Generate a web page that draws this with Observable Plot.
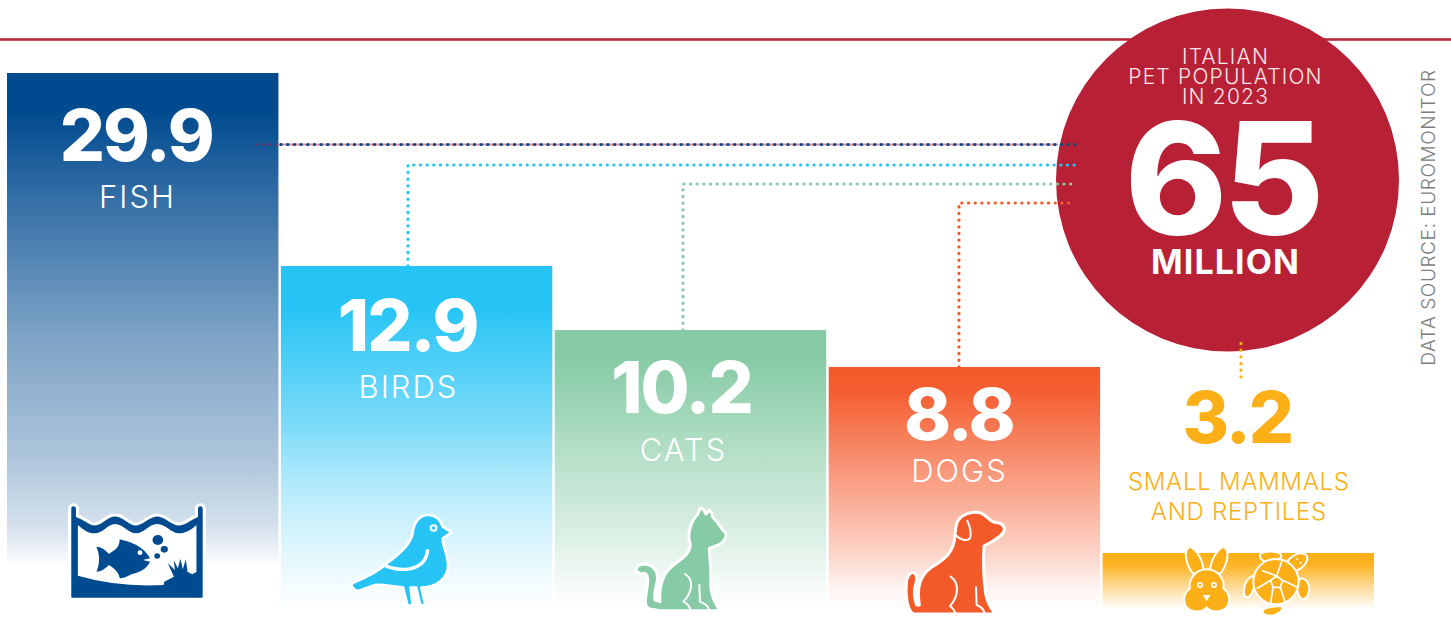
<!DOCTYPE html>
<html><head><meta charset="utf-8">
<style>html,body{margin:0;padding:0;background:#fff}svg{display:block}
g[font-size="71"]{letter-spacing:-2px}
g[font-size="31"]{letter-spacing:2px}
g[font-size="24"]{letter-spacing:.7px}
g[font-size="21"]{letter-spacing:1.2px}
g[font-size="19"]{letter-spacing:.6px}
g[font-size="34"]{letter-spacing:1.1px}
g[font-size="155"]{letter-spacing:-4px}
</style>
<script src="https://cdn.jsdelivr.net/npm/d3@7"></script>
<script src="https://cdn.jsdelivr.net/npm/@observablehq/plot@0.6"></script>
</head><body><div id="chart"></div>
<script>
// ---- data ----
const categories = ["FISH", "BIRDS", "CATS", "DOGS", "SMALL MAMMALS\nAND REPTILES"];
const values = [29.9, 12.9, 10.2, 8.8, 3.2];
const totalValue = 65;
const totalUnit = "MILLION";
const totalTitle = "ITALIAN\nPET POPULATION\nIN 2023";
const sourceNote = "DATA SOURCE: EUROMONITOR";

// ---- styles & layout ----
const colors = ["#004a8f", "#26c4f5", "#86cba5", "#f4592a", "#fcaf17"];
const red = "#b72035";
const FONT = "Inter, 'Noto Sans', sans-serif";
const rows = categories.map((name, i) => ({name, value: values[i], color: colors[i], id: "grad" + i}));
// offsets from the bar's centre and top, in pixels
const labelLayout = [
  {dx: -5.7, vdx: -7, vy: 65, ny: 122, ns: 31},
  {dx: -8.6, vdx: -9.5, vy: 62, ny: 119, ns: 31},
  {dx: -7.5, vdx: -9.5, vy: 60, ny: 118, ns: 31},
  {dx: -5.4, vdx: -6, vy: 50, ny: 102, ns: 31},
  {dx: 0, vdx: -1.5, vy: -133, ny: -58, ns: 24}
];
const gradientStops = [
  [[0, 1], [.07, 1], [.25, .78], [.5, .5], [.72, .32], [.85, .16], [.91, .03], [.915, 0], [1, 0]],
  [[0, 1], [.12, 1], [.45, .62], [.63, .36], [.85, .12], [1, 0]],
  [[0, 1], [.1, 1], [.5, .55], [.76, .27], [.92, .07], [1, 0]],
  [[0, 1], [.1, .97], [.5, .55], [.76, .27], [.92, .06], [1, 0]],
  [[0, 1], [.2, .95], [.6, .45], [1, 0]]
];
const connectors = [
  {i: 1, dx: -8.6, level: 165, end: 1075},
  {i: 2, dx: -7.5, level: 184, end: 1075},
  {i: 3, dx: -5.4, level: 203, end: 1075}
];

function defsMark() {
  const defs = d3.create("svg:defs");
  rows.forEach((r, k) => {
    const g = defs.append("linearGradient").attr("id", r.id).attr("x1", 0).attr("x2", 0).attr("y1", 0).attr("y2", 1);
    gradientStops[k].forEach(([o, a]) => g.append("stop").attr("offset", o).attr("stop-color", r.color).attr("stop-opacity", a));
  });
  return defs.node();
}

function center(scales, i) {
  return scales.x(categories[i]) + scales.x.bandwidth() / 2;
}

function topRule(_, scales, v, dims) {
  return d3.create("svg:line").attr("x1", 0).attr("x2", dims.width).attr("y1", 39.5).attr("y2", 39.5)
    .attr("stroke", red).attr("stroke-width", 2.5).node();
}

function connectorMark(_, scales) {
  const g = d3.create("svg:g").attr("fill", "none");
  const dotted = (sel, color) => sel.attr("stroke", color).attr("stroke-width", 3.2)
    .attr("stroke-linecap", "round").attr("stroke-dasharray", "0.2 6.47");
  // fish: pale red line under navy dots
  const fy = 144.5;
  const fishEdge = scales.x(categories[0]) + scales.x.bandwidth();
  g.append("line").attr("x1", fishEdge).attr("x2", 1058).attr("y1", fy).attr("y2", fy)
    .attr("stroke", "#dd8a98").attr("stroke-width", 2);
  g.append("line").attr("x1", 255).attr("x2", fishEdge).attr("y1", fy).attr("y2", fy)
    .attr("stroke", "#8a2a55").attr("stroke-width", 2).attr("stroke-dasharray", "3 3.67");
  dotted(g.append("line").attr("x1", 281).attr("x2", 1078).attr("y1", fy).attr("y2", fy), colors[0]);
  connectors.forEach(c => {
    const x0 = center(scales, c.i) + c.dx;
    dotted(g.append("path").attr("d", `M${x0},${scales.y(values[c.i])}V${c.level}H${c.end}`), colors[c.i]);
  });
  // small mammals: short vertical tick up into the circle
  const sx = center(scales, 4) + 2.7;
  dotted(g.append("path").attr("d", `M${sx},${scales.y(values[4]) - 176}V${scales.y(values[4]) - 211}`), colors[4]);
  return g.node();
}

// ---- icons, drawn at zoom-crop scale and placed from the band centre / baseline ----
function iconMark(i, ox, oy, kx, ky, draw) {
  return (_, scales) => {
    const g = d3.create("svg:g")
      .attr("transform", `translate(${center(scales, i) + ox},${scales.y(0) + oy}) scale(${kx},${ky})`)
      .attr("stroke-linejoin", "round").attr("stroke-linecap", "round");
    draw(g);
    return g.node();
  };
}
const P = (g, d, fill, stroke, w, rule) => {
  const p = g.append("path").attr("d", d).attr("fill", fill);
  if (stroke) p.attr("stroke", stroke).attr("stroke-width", w);
  if (rule) p.attr("fill-rule", rule);
  return p;
};
const C = (g, x, y, r, fill) => g.append("circle").attr("cx", x).attr("cy", y).attr("r", r).attr("fill", fill);

const fishIcon = g => {
  const c = colors[0];
  const outer = "M195 85a11 11 0 0 1 22 0L217 108C240 115 250 132 265 132C285 132 295 105 322 105C350 105 360 132 380 132C400 132 415 105 440 105C465 105 480 132 500 132C520 132 530 115 550 108L550 85a11 11 0 0 1 22 0L572 350Q572 358 563 358L205 358Q195 358 195 350Z";
  P(g, outer, c, "#fff", 9);
  P(g, "M218 135C235 150 245 160 265 160C290 160 300 132 322 132C345 132 360 160 380 160C405 160 415 132 440 132C465 132 480 160 500 160C520 160 535 150 550 135L550 276L538 283L525 275L520 238L512 268L505 236L498 265L486 240L490 270L470 250L487 290L460 305L458 315Q330 322 218 287Z", "#fff");
  P(g, "M270 200C285 200 300 215 305 222C320 210 335 205 335 178C360 185 400 195 420 235L400 240L420 245C410 270 385 278 370 282C355 290 345 295 335 295C335 280 320 265 305 255C295 265 285 275 270 275C280 250 280 225 270 200Z", c);
  C(g, 392, 218, 7, "#fff");
  C(g, 442, 180, 15, c); C(g, 460, 208, 10, c); C(g, 440, 228, 8, c);
};
const birdIcon = g => {
  const c = colors[1];
  P(g, "M985 310C1020 295 1060 275 1085 248C1115 225 1150 195 1155 160C1158 125 1175 105 1200 105C1225 105 1235 125 1240 140L1265 157L1240 175C1238 195 1255 225 1255 255C1255 295 1225 320 1180 323L1190 370a8 8 0 0 1 -14 3L1165 323L1150 323L1155 370a8 8 0 0 1 -15 3L1128 322C1100 320 1070 312 1050 315L1005 332C995 335 980 320 985 310Z", c, "#fff", 8);
  P(g, "M1075 255C1110 275 1190 280 1197 212", "none", "#fff", 10);
  C(g, 1214, 144, 11, "#fff"); C(g, 1214, 144, 5, c);
};
const catIcon = g => {
  P(g, "M300 362L120 362L95 358C70 355 75 330 80 300C85 270 85 250 70 250Q55 255 48 240Q50 222 75 222C105 225 115 250 112 270C110 290 100 310 105 330L120 335C115 290 130 250 155 230C185 205 215 190 210 160C200 130 215 90 232 75L240 55Q247 52 252 62L258 72L268 60Q275 65 278 82C295 95 300 115 318 130Q322 150 295 165L268 175C268 200 275 240 272 280C272 310 280 330 300 362Z", colors[2], "#fff", 9);
  P(g, "M195 252C225 270 215 310 190 335C200 340 210 350 212 362M238 285L240 335C255 340 265 350 268 362", "none", "#fff", 6);
};
const dogIcon = g => {
  P(g, "M1010 100C1020 75 1055 60 1085 70C1105 80 1110 95 1125 97Q1155 100 1153 120C1150 140 1115 155 1092 168C1090 200 1090 260 1097 310C1100 330 1105 345 1125 372L880 372C860 360 855 310 860 270Q870 240 885 250Q895 260 885 290C880 310 885 330 890 345L898 345C890 290 900 260 930 235C970 210 1005 190 1005 130Z", colors[3], "#fff", 9);
  P(g, "M1042 92C1050 110 1055 130 1050 145C1040 155 1020 150 1007 135M992 260C1020 280 1015 320 990 348C1000 355 1005 365 1007 372M1068 292L1070 345C1085 350 1092 362 1095 372", "none", "#fff", 6);
};
const smallIcon = g => {
  const c = colors[4];
  const s = ["#fff", 6];
  // rabbit
  P(g, "M280 132C255 100 250 60 270 50C290 60 310 90 310 122Z", c, ...s);
  P(g, "M360 132C385 100 390 60 370 50C350 60 332 90 330 122Z", c, ...s);
  P(g, "M320 118C355 118 375 150 370 175C395 195 395 235 360 243C340 247 325 240 320 232C315 240 300 247 280 243C245 235 245 195 270 175C265 150 285 118 320 118Z", c, ...s);
  C(g, 300, 165, 9, "#fff"); C(g, 300, 165, 4, c);
  C(g, 342, 165, 9, "#fff"); C(g, 342, 165, 4, c);
  P(g, "M308 195L332 195L320 213Z", "#fff");
  // turtle
  P(g, "M480 75C480 65 520 60 540 70C550 80 540 90 520 92C500 98 480 95 480 75Z", c, ...s);
  P(g, "M432 190C430 160 445 140 462 138C468 150 465 170 455 190C450 205 432 205 432 190Z", c, ...s);
  P(g, "M600 145Q625 145 628 175Q625 205 610 208C595 205 590 180 590 165Z", c, ...s);
  P(g, "M488 240C495 232 530 228 548 228Q550 245 525 255C510 258 485 258 488 240Z", c, ...s);
  g.append("ellipse").attr("cx", 590).attr("cy", 97).attr("rx", 36).attr("ry", 22)
    .attr("transform", "rotate(-35 590 97)").attr("fill", c).attr("stroke", "#fff").attr("stroke-width", 6);
  C(g, 592, 87, 3, "#fff"); C(g, 602, 98, 3, "#fff");
  C(g, 528, 155, 68, c).attr("stroke", "#fff").attr("stroke-width", 6);
  P(g, "M530 138L548 151L541 172L519 172L512 151ZM530 138L546 92M548 151L592 172M541 172L555 216M519 172L512 220M512 151L472 175M530 138L488 122", "none", "#fff", 5);
};

const valueMarks = rows.flatMap((r, i) => {
  const L = labelLayout[i];
  const inBar = i < 4;
  return [
    Plot.text([r], {x: "name", y: "value", text: d => d.value.toFixed(1), dx: L.vdx, dy: L.vy,
      fontSize: 71, fontWeight: 800, fontFamily: FONT, fill: inBar ? "#fff" : r.color, lineAnchor: "middle", textAnchor: "middle"}),
    Plot.text([r], {x: "name", y: "value", text: "name", dx: L.dx, dy: L.ny,
      fontSize: L.ns, fontWeight: 300, fontFamily: FONT, fill: inBar ? "#fff" : r.color, lineAnchor: "middle", textAnchor: "middle", lineHeight: 1.25})
  ];
});

const cx = 1227, cy = 179.5;
const chart = Plot.plot({
  width: 1451, height: 617,
  marginTop: 0, marginRight: 0, marginBottom: 0, marginLeft: 0,
  style: {background: "#fff", overflow: "hidden"},
  x: {type: "band", domain: categories, range: [7, 1374], paddingInner: 0.009, paddingOuter: 0, round: false, axis: null},
  y: {type: "linear", domain: [0, 3.2, 8.8, 10.2, 12.9, 29.9], range: [609, 553, 367, 330, 266, 73], axis: null},
  marks: [
    defsMark,
    topRule,
    ...rows.map(r => Plot.barY([r], {x: "name", y: "value", fill: `url(#${r.id})`})),
    iconMark(0, -142.7, -129, 1 / 2.8, 1 / 3, fishIcon),
    iconMark(1, -416.6, -129, 1 / 2.8, 1 / 3, birdIcon),
    iconMark(2, -690.5 + 620, -119, 1 / 3, 1 / 3, catIcon),
    iconMark(3, -964.4 + 620, -119, 1 / 3, 1 / 3, dogIcon),
    iconMark(4, -1238.3 + 1100, -79, 1 / 3, 1 / 3, smallIcon),
    Plot.dot([totalValue], {frameAnchor: "top-left", dx: cx, dy: cy, r: 171.5, fill: red}),
    connectorMark,
    ...valueMarks,
    Plot.text([totalTitle], {frameAnchor: "top-left", dx: 1225, dy: 77, fontSize: 21, fontWeight: 300, lineHeight: 0.95,
      fontFamily: FONT, fill: "#fbe6e8", textAnchor: "middle", lineAnchor: "middle"}),
    Plot.text([totalValue], {frameAnchor: "top-left", dx: 1222, dy: 184, fontSize: 155, fontWeight: 800,
      fontFamily: FONT, fill: "#fff", textAnchor: "middle", lineAnchor: "middle", text: d => String(d)}),
    Plot.text([totalUnit], {frameAnchor: "top-left", dx: 1225, dy: 263, fontSize: 34, fontWeight: 700,
      fontFamily: FONT, fill: "#fff", textAnchor: "middle", lineAnchor: "middle"}),
    Plot.text([sourceNote], {frameAnchor: "top-left", dx: 1428, dy: 217, rotate: -90, fontSize: 19, fontWeight: 300,
      fontFamily: FONT, fill: "#7d7d7d", textAnchor: "middle", lineAnchor: "middle"})
  ]
});
document.getElementById("chart").append(chart);
</script></body></html>
